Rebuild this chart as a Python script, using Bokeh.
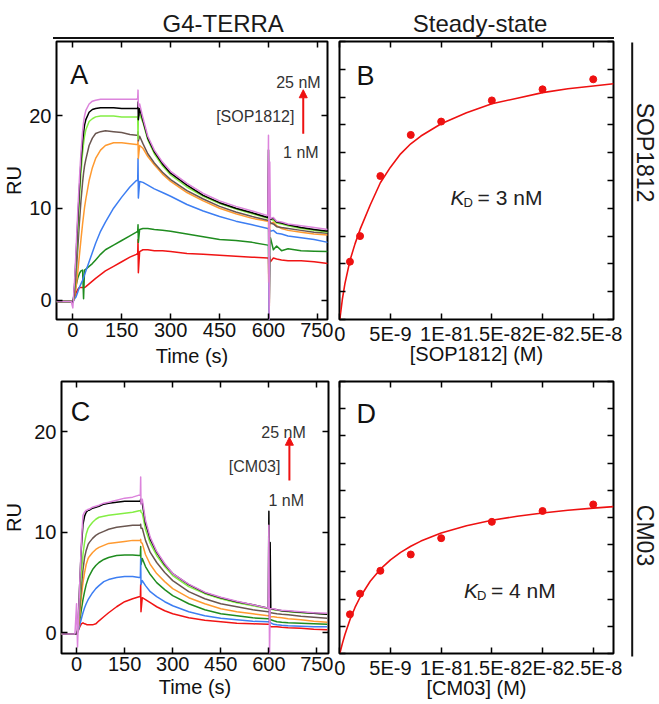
import math
from bokeh.plotting import figure
from bokeh.models import (Range1d, LinearAxis, FixedTicker, Label, Arrow, NormalHead,
                          CustomJSTickFormatter)
from bokeh.layouts import row, column
from bokeh.embed import file_html
from bokeh.resources import INLINE

FONT = "Liberation Sans"

# ---------------- data ----------------
series_names = ["1 nM", "2 nM", "4 nM", "7 nM", "10 nM", "15 nM", "20 nM", "25 nM"]
series_colors = ["#f01414", "#1f8c1f", "#3d7ef2", "#ff9a30", "#6a5650", "#84ee44", "#000000", "#dc84dc"]

time_s = [-50, -20, -5, 0, 3, 6, 10, 15, 20, 25, 30, 33, 36, 40, 50, 60, 70, 85, 100, 125,
          150, 175, 195, 199, 200, 201, 205, 215, 230, 250, 275, 300, 350, 400, 450, 500, 550,
          598, 600, 602, 604, 606, 615, 625, 640, 660, 700, 740, 782]

# Panel A: SOP1812 sensorgrams (RU)
sop_1nM = [-0.1, -0.1, -0.1, -0.2, 0.1, 0.4, 0.8, 1.2, 1.4, 1.4, 1.4, 1.4, 1.4, 1.5, 1.8, 2.1, 2.4, 2.8, 3.2, 3.7,
           4.2, 4.7, 5.0, 5.1, 6.6, 3.0, 5.3, 5.5, 5.5, 5.4, 5.4, 5.3, 5.1, 5.0, 4.9, 4.8, 4.7, 4.6, 4.6, -2.5,
           4.8, 4.2, 4.6, 4.5, 4.4, 4.3, 4.3, 4.2, 4.0]
sop_2nM = [-0.1, -0.1, -0.1, -0.2, 0.2, 0.8, 1.6, 2.4, 2.9, 3.2, 3.3, 0.2, 3.3, 3.4, 3.7, 4.0, 4.4, 5.0, 5.5, 6.0,
           6.5, 7.0, 7.4, 7.5, 8.2, 6.3, 7.7, 7.8, 7.8, 7.7, 7.6, 7.5, 7.2, 6.9, 6.6, 6.5, 6.3, 6.0, 6.0, -2.5,
           6.0, 6.8, 5.5, 5.9, 5.4, 5.6, 5.4, 5.35, 5.3]
sop_4nM = [-0.1, -0.1, -0.1, -0.2, 0.0, 0.2, 0.4, 0.9, 1.4, 1.8, 2.2, 2.5, 2.8, 3.2, 4.2, 5.2, 6.2, 7.5, 8.5, 10.0,
           11.2, 12.3, 13.0, 13.0, 15.4, 11.1, 12.9, 12.8, 12.5, 12.1, 11.7, 11.3, 10.4, 9.7, 9.1, 8.6, 8.2, 7.8, 7.8, -2.5,
           7.7, 7.5, 7.6, 7.3, 7.2, 7.0, 6.8, 6.6, 6.3]
sop_7nM = [-0.1, -0.1, -0.1, -0.2, 0.1, 0.6, 1.5, 3.0, 4.8, 6.6, 8.3, 9.2, 10.1, 11.0, 13.0, 14.4, 15.4, 16.3, 16.8, 17.1,
           17.1, 17.0, 16.9, 16.9, 17.3, 15.4, 16.8, 16.5, 15.6, 14.7, 13.7, 12.9, 11.7, 10.8, 10.0, 9.4, 8.9, 8.6, 8.6, 2.0,
           8.6, 8.3, 8.5, 8.1, 7.8, 7.6, 7.4, 7.2, 7.1]
sop_10nM = [-0.1, -0.1, -0.1, -0.2, 0.2, 1.0, 2.8, 5.5, 8.3, 10.8, 12.8, 13.8, 14.6, 15.3, 16.8, 17.6, 18.1, 18.3, 18.4, 18.3,
            18.2, 18.0, 17.9, 17.9, 18.3, 17.3, 17.8, 17.0, 15.9, 14.9, 13.9, 13.1, 11.9, 11.0, 10.2, 9.6, 9.1, 8.7, 8.7, 8.5,
            8.6, 8.4, 8.3, 8.0, 7.9, 7.8, 7.6, 7.4, 7.3]
sop_15nM = [-0.1, -0.1, -0.1, -0.2, 0.3, 1.5, 4.0, 7.5, 10.8, 13.8, 16.0, 17.0, 17.8, 18.5, 19.4, 19.7, 19.9, 20.0, 20.0, 20.0,
            19.9, 19.9, 19.9, 19.9, 17.5, 20.0, 20.2, 19.3, 17.4, 15.9, 14.6, 13.6, 12.3, 11.3, 10.5, 9.9, 9.4, 8.9, 8.9, 8.9,
            8.8, 8.8, 8.7, 8.4, 8.3, 8.1, 7.8, 7.6, 7.4]
sop_20nM = [-0.1, -0.1, -0.1, -0.2, 0.5, 2.0, 4.8, 8.5, 12.0, 15.0, 17.2, 18.2, 19.0, 19.6, 20.4, 20.7, 20.8, 20.9, 20.9, 20.9,
            20.8, 20.8, 20.8, 20.8, 21.5, 19.6, 20.8, 19.5, 17.6, 16.1, 14.8, 13.8, 12.5, 11.4, 10.6, 10.0, 9.5, 9.0, 16.3, 7.5,
            9.5, 8.8, 8.9, 8.5, 8.4, 8.2, 7.9, 7.7, 7.5]
sop_25nM = [-0.1, -0.1, -0.1, -0.8, 0.8, 2.5, 5.5, 9.5, 13.0, 16.0, 18.3, 19.3, 20.0, 20.6, 21.3, 21.6, 21.7, 21.8, 21.8, 21.8,
            21.8, 21.8, 21.8, 21.9, 22.8, 21.0, 21.3, 19.8, 17.8, 16.3, 15.0, 14.0, 12.7, 11.6, 10.8, 10.2, 9.7, 9.2, 17.9, -2.5,
            15.0, 8.9, 9.0, 8.6, 8.5, 8.3, 8.1, 7.9, 7.7]

# Panel C: CM03 sensorgrams (RU)
cm_1nM = [-0.1, -0.1, -0.1, -0.1, 0.1, 0.3, 0.6, 0.9, 1.0, 0.9, 0.85, 0.8, 0.8, 0.8, 0.8, 0.9, 1.2, 1.6, 2.0, 2.6,
          3.1, 3.4, 3.6, 3.6, 4.8, 2.1, 3.5, 3.3, 3.0, 2.6, 2.2, 1.9, 1.5, 1.25, 1.1, 0.95, 0.9, 0.85, 0.85, 0.85,
          0.7, 0.6, 0.6, 0.6, 0.55, 0.5, 0.45, 0.35, 0.3]
cm_2nM = [-0.1, -0.1, -0.1, -0.1, 0.1, 0.4, 1.2, 2.3, 3.3, 4.1, 4.8, 5.1, 5.4, 5.7, 6.3, 6.7, 7.0, 7.3, 7.5, 7.7,
          7.75, 7.75, 7.7, 7.7, 8.6, 6.8, 7.4, 6.6, 5.8, 5.0, 4.3, 3.7, 2.9, 2.3, 1.9, 1.7, 1.5, 1.4, 1.4, 1.4,
          1.3, 1.3, 1.2, 1.1, 1.05, 1.0, 0.95, 0.9, 0.85]
cm_4nM = [-0.1, -0.1, -0.1, -0.1, 0.1, 0.3, 0.8, 1.4, 2.0, 2.5, 2.9, 3.1, 3.3, 3.5, 4.0, 4.4, 4.7, 5.1, 5.3, 5.5,
          5.6, 5.6, 5.5, 5.5, 7.4, 4.8, 5.2, 4.7, 4.1, 3.6, 3.1, 2.7, 2.1, 1.7, 1.45, 1.3, 1.15, 1.1, 1.1, 1.1,
          1.0, 1.0, 0.85, 0.8, 0.75, 0.7, 0.65, 0.6, 0.6]
cm_7nM = [-0.1, -0.1, -0.1, -0.1, 0.1, 0.5, 1.8, 3.6, 5.0, 6.0, 6.8, 7.1, 7.4, 7.6, 8.0, 8.3, 8.5, 8.7, 8.9, 9.0,
          9.1, 9.2, 9.2, 9.2, 9.3, 9.0, 8.9, 7.8, 6.8, 5.9, 5.1, 4.4, 3.5, 2.9, 2.4, 2.1, 1.9, 1.7, 1.7, 1.7,
          1.6, 1.6, 1.6, 1.55, 1.5, 1.4, 1.3, 1.15, 1.05]
cm_10nM = [-0.1, -0.1, -0.1, -0.1, 0.1, 0.8, 2.5, 4.6, 6.3, 7.5, 8.2, 8.5, 8.8, 9.0, 9.4, 9.7, 9.9, 10.1, 10.3, 10.5,
           10.6, 10.7, 10.7, 10.7, 10.8, 10.4, 10.4, 9.2, 8.0, 7.0, 6.0, 5.2, 4.1, 3.4, 2.9, 2.6, 2.3, 2.1, 2.1, 2.1,
           2.0, 2.0, 1.95, 1.9, 1.85, 1.8, 1.65, 1.55, 1.45]
cm_15nM = [-0.1, -0.1, -0.1, -0.1, 0.2, 1.2, 3.5, 6.0, 7.8, 9.0, 9.8, 10.1, 10.4, 10.6, 11.0, 11.3, 11.5, 11.6, 11.7, 11.8,
           11.9, 12.0, 12.15, 12.15, 12.2, 12.0, 11.9, 10.3, 8.9, 7.7, 6.6, 5.7, 4.6, 3.9, 3.4, 3.0, 2.7, 2.4, 2.4, 2.4,
           2.35, 2.35, 2.3, 2.25, 2.2, 2.1, 2.0, 1.95, 1.85]
cm_20nM = [-0.1, -0.1, -0.1, -0.1, 0.3, 2.0, 5.0, 8.5, 10.8, 11.6, 12.0, 12.1, 12.2, 12.2, 12.4, 12.5, 12.6, 12.8, 12.9, 13.0,
           13.1, 13.1, 13.1, 13.1, 13.3, 12.9, 12.9, 10.9, 9.3, 8.0, 6.8, 5.9, 4.8, 4.0, 3.5, 3.1, 2.8, 2.45, 12.1, 1.0,
           9.0, 2.4, 2.35, 2.3, 2.2, 2.15, 2.05, 1.95, 1.85]
cm_25nM = [-0.1, -0.1, -0.1, 2.9, -1.4, 1.5, 5.0, 9.0, 11.7, 12.0, 12.2, 12.2, 12.3, 12.3, 12.5, 12.6, 12.7, 12.9, 13.0, 13.2,
           13.4, 13.5, 13.7, 13.7, 15.5, 12.8, 13.3, 11.2, 9.5, 8.1, 6.9, 5.9, 4.85, 4.05, 3.55, 3.15, 2.8, 2.45, 10.7, -2.5,
           2.4, 2.4, 2.4, 2.3, 2.25, 2.2, 2.1, 2.0, 1.95]

sop_series = [sop_1nM, sop_2nM, sop_4nM, sop_7nM, sop_10nM, sop_15nM, sop_20nM, sop_25nM]
cm_series = [cm_1nM, cm_2nM, cm_4nM, cm_7nM, cm_10nM, cm_15nM, cm_20nM, cm_25nM]
for s in sop_series + cm_series:
    assert len(s) == len(time_s), len(s)

# Steady-state (B, D)
conc_M = [1e-9, 2e-9, 4e-9, 7e-9, 1e-8, 1.5e-8, 2e-8, 2.5e-8]
req_sop = [5.2, 7.5, 12.9, 16.6, 17.8, 19.7, 20.7, 21.6]
req_cm = [3.6, 5.5, 7.6, 9.1, 10.6, 12.1, 13.1, 13.7]
fit_conc_M = [0, 2.5e-10, 5e-10, 1e-9, 1.5e-9, 2e-9, 3e-9, 4e-9, 5e-9, 6e-9, 7e-9, 8e-9, 1e-8,
              1.25e-8, 1.5e-8, 1.75e-8, 2e-8, 2.25e-8, 2.5e-8, 2.7e-8]
fit_sop = [0, 1.8, 3.2, 5.3, 6.8, 8.1, 10.3, 12.3, 13.7, 14.9, 15.8, 16.5, 17.6,
           18.6, 19.4, 19.9, 20.4, 20.75, 21.0, 21.2]
fit_cm = [0, 0.91, 1.72, 3.1, 4.23, 5.17, 6.64, 7.75, 8.61, 9.3, 9.86, 10.33, 11.07,
          11.74, 12.24, 12.62, 12.92, 13.16, 13.36, 13.5]

time_ticks = [0, 150, 300, 450, 600, 750]
ru_ticks = [0, 10, 20]
conc_ticks = [0, 5e-9, 1e-8, 1.5e-8, 2e-8, 2.5e-8]
conc_tick_labels = ["0", "5E-9", "1E-8", "1.5E-8", "2E-8", "2.5E-8"]
ss_y_ticks = [0, 2.5, 5, 7.5, 10, 12.5, 15, 17.5, 20, 22.5, 25]

# ---------------- helpers ----------------
def base_fig(w, h, xr, yr, bl, br, bt, bb):
    p = figure(width=w, height=h, x_range=Range1d(*xr), y_range=Range1d(*yr),
               output_backend="svg", toolbar_location=None,
               min_border_left=bl, min_border_right=br, min_border_top=bt, min_border_bottom=bb)
    p.xgrid.visible = False
    p.ygrid.visible = False
    p.outline_line_color = "black"
    p.outline_line_width = 2
    p.background_fill_color = "white"
    p.border_fill_color = "white"
    return p


def style_axis(ax, ticks, labels=True, fmt=None, standoff=3):
    ax.ticker = FixedTicker(ticks=ticks, minor_ticks=[])
    ax.major_tick_in = 6
    ax.major_tick_out = 0
    ax.minor_tick_in = 0
    ax.minor_tick_out = 0
    ax.major_tick_line_width = 1.5
    ax.major_tick_line_color = "black"
    ax.axis_line_color = None
    if labels:
        ax.major_label_text_font = FONT
        ax.major_label_text_font_size = "20px"
        ax.major_label_text_color = "#111111"
        ax.major_label_standoff = standoff
        if fmt is not None:
            ax.formatter = fmt
    else:
        ax.major_label_text_font_size = "0px"
        ax.major_label_standoff = 0
        ax.formatter = CustomJSTickFormatter(code="return '';")


def axis_title(ax, text, standoff):
    ax.axis_label = text
    ax.axis_label_text_font = FONT
    ax.axis_label_text_font_size = "20px"
    ax.axis_label_text_font_style = "normal"
    ax.axis_label_text_color = "#111111"
    ax.axis_label_standoff = standoff


def mirror(p, xticks, yticks):
    top = LinearAxis()
    right = LinearAxis()
    style_axis(top, xticks, labels=False)
    style_axis(right, yticks, labels=False)
    p.add_layout(top, "above")
    p.add_layout(right, "right")


def txt(p, x, y, text, size, align="left", color="#222222", style="normal", **kw):
    lab = Label(x=x, y=y, text=text, text_font=FONT, text_font_size=size, text_align=align,
                text_baseline="alphabetic", text_color=color, text_font_style=style, **kw)
    p.add_layout(lab)


conc_fmt = CustomJSTickFormatter(args=dict(vals=conc_ticks, labs=conc_tick_labels), code="""
for (let i = 0; i < vals.length; i++) { if (Math.abs(vals[i] - tick) < 1e-12) return labs[i]; }
return '';
""")


def sensorgram(p, series, ru_so, title_so, name, arrow, texts, letter):
    for vals, col in zip(series, series_colors):
        p.line(time_s, vals, color=col, line_width=1.5, line_join="round")
    style_axis(p.xaxis[0], time_ticks, standoff=3)
    style_axis(p.yaxis[0], ru_ticks, standoff=5)
    axis_title(p.xaxis[0], "Time (s)", title_so)
    axis_title(p.yaxis[0], "RU", ru_so)
    mirror(p, time_ticks, ru_ticks)
    txt(p, letter[1], letter[2], letter[0], "27px", color="#111111")
    (t25, y25), (tn, yn), (t1, y1) = texts
    txt(p, t25, y25, "25 nM", "16px", align="right", color="#333333")
    txt(p, tn, yn, name, "16px", align="right", color="#333333")
    txt(p, t1, y1, "1 nM", "16px", align="right", color="#333333")
    ax_, ay0, ay1 = arrow
    p.add_layout(Arrow(end=NormalHead(size=8, fill_color="#ee1111", line_color="#ee1111"),
                       x_start=ax_, y_start=ay0, x_end=ax_, y_end=ay1,
                       line_color="#ee1111", line_width=2))


def steady(p, req, fit, xlabel, title_so, kd_text, kx, ky, letter, ly):
    p.line(fit_conc_M, fit, color="#ee1111", line_width=1.6)
    p.scatter(conc_M, req, size=7, color="#ee1111")
    style_axis(p.xaxis[0], conc_ticks, fmt=conc_fmt, standoff=3)
    style_axis(p.yaxis[0], ss_y_ticks, labels=False)
    axis_title(p.xaxis[0], xlabel, title_so)
    mirror(p, conc_ticks, ss_y_ticks)
    txt(p, 1.65e-9, ly, letter, "27px", color="#111111")
    txt(p, kx, ky, "K", "21px", color="#222222", style="italic")
    txt(p, kx, ky, "D", "13px", color="#222222", x_offset=13, y_offset=-5)
    txt(p, kx, ky, kd_text, "21px", color="#222222", x_offset=27)


SS_X = (-3e-11, 2.7e-8)

# ---------------- panels ----------------
pA = base_fig(333, 339, (-50, 781), (-2.06, 28.07), 51, 6, 2, 59)
sensorgram(pA, sop_series, 1, 5, "[SOP1812]",
           (706.6, 18.07, 22.84), ((760, 23.66), (679.5, 19.94), (754, 16.07)), ("A", -8, 24.4))

pB = base_fig(289, 339, SS_X, (0, 25), 6, 9, 2, 59)
steady(pB, req_sop, fit_sop, "[SOP1812] (M)", -5, "= 3 nM", 1.093e-8, 11.0, "B", 21.9)

pC = base_fig(333, 325, (-47, 786), (-2.05, 25.0), 56, 5, 3, 50)
sensorgram(pC, cm_series, 6, 2, "[CM03]",
           (664, 15.16, 19.46), ((715, 19.96), (636, 16.55), (709.7, 13.17)), ("C", -18, 21.95))

pD = base_fig(289, 325, SS_X, (0, 25), 6, 9, 3, 50)
steady(pD, req_cm, fit_cm, "[CM03] (M)", -5, "= 4 nM", 1.225e-8, 5.79, "D", 22.05)

# header strip (y measured upward from its bottom edge)
hdr = figure(width=622, height=39, x_range=Range1d(0, 622), y_range=Range1d(0, 39),
             x_axis_location=None, y_axis_location=None, output_backend="svg", toolbar_location=None,
             min_border=0, outline_line_color=None)
hdr.xgrid.visible = False
hdr.ygrid.visible = False
hdr.segment(x0=[52.5], y0=[1.5], x1=[613.5], y1=[1.5], line_color="#111111", line_width=2)
hdr.add_layout(Label(x=222.7, y=16, text="G4-TERRA", text_font=FONT, text_font_size="24px",
                     text_align="center", text_baseline="alphabetic", text_color="#1a1a1a"))
hdr.add_layout(Label(x=479.6, y=16, text="Steady-state", text_font=FONT, text_font_size="24px",
                     text_align="center", text_baseline="alphabetic", text_color="#1a1a1a"))

# right strip (y measured upward from its bottom edge)
SIDE_H = 703
side = figure(width=36, height=SIDE_H, x_range=Range1d(0, 36), y_range=Range1d(0, SIDE_H),
              x_axis_location=None, y_axis_location=None, output_backend="svg", toolbar_location=None,
              min_border=0, outline_line_color=None)
side.xgrid.visible = False
side.ygrid.visible = False
side.segment(x0=[9.7], y0=[SIDE_H - 42], x1=[9.7], y1=[SIDE_H - 656], line_color="#111111", line_width=2)
side.add_layout(Label(x=22, y=SIDE_H - 152, text="SOP1812", angle=-math.pi / 2, text_font=FONT,
                      text_font_size="23px", text_align="center", text_baseline="middle",
                      text_color="#1a1a1a"))
side.add_layout(Label(x=22, y=SIDE_H - 535, text="CM03", angle=-math.pi / 2, text_font=FONT,
                      text_font_size="23px", text_align="center", text_baseline="middle",
                      text_color="#1a1a1a"))

layout = row(column(hdr, row(pA, pB), row(pC, pD)), side)

with open("out.html", "w") as f:
    f.write(file_html(layout, INLINE))
